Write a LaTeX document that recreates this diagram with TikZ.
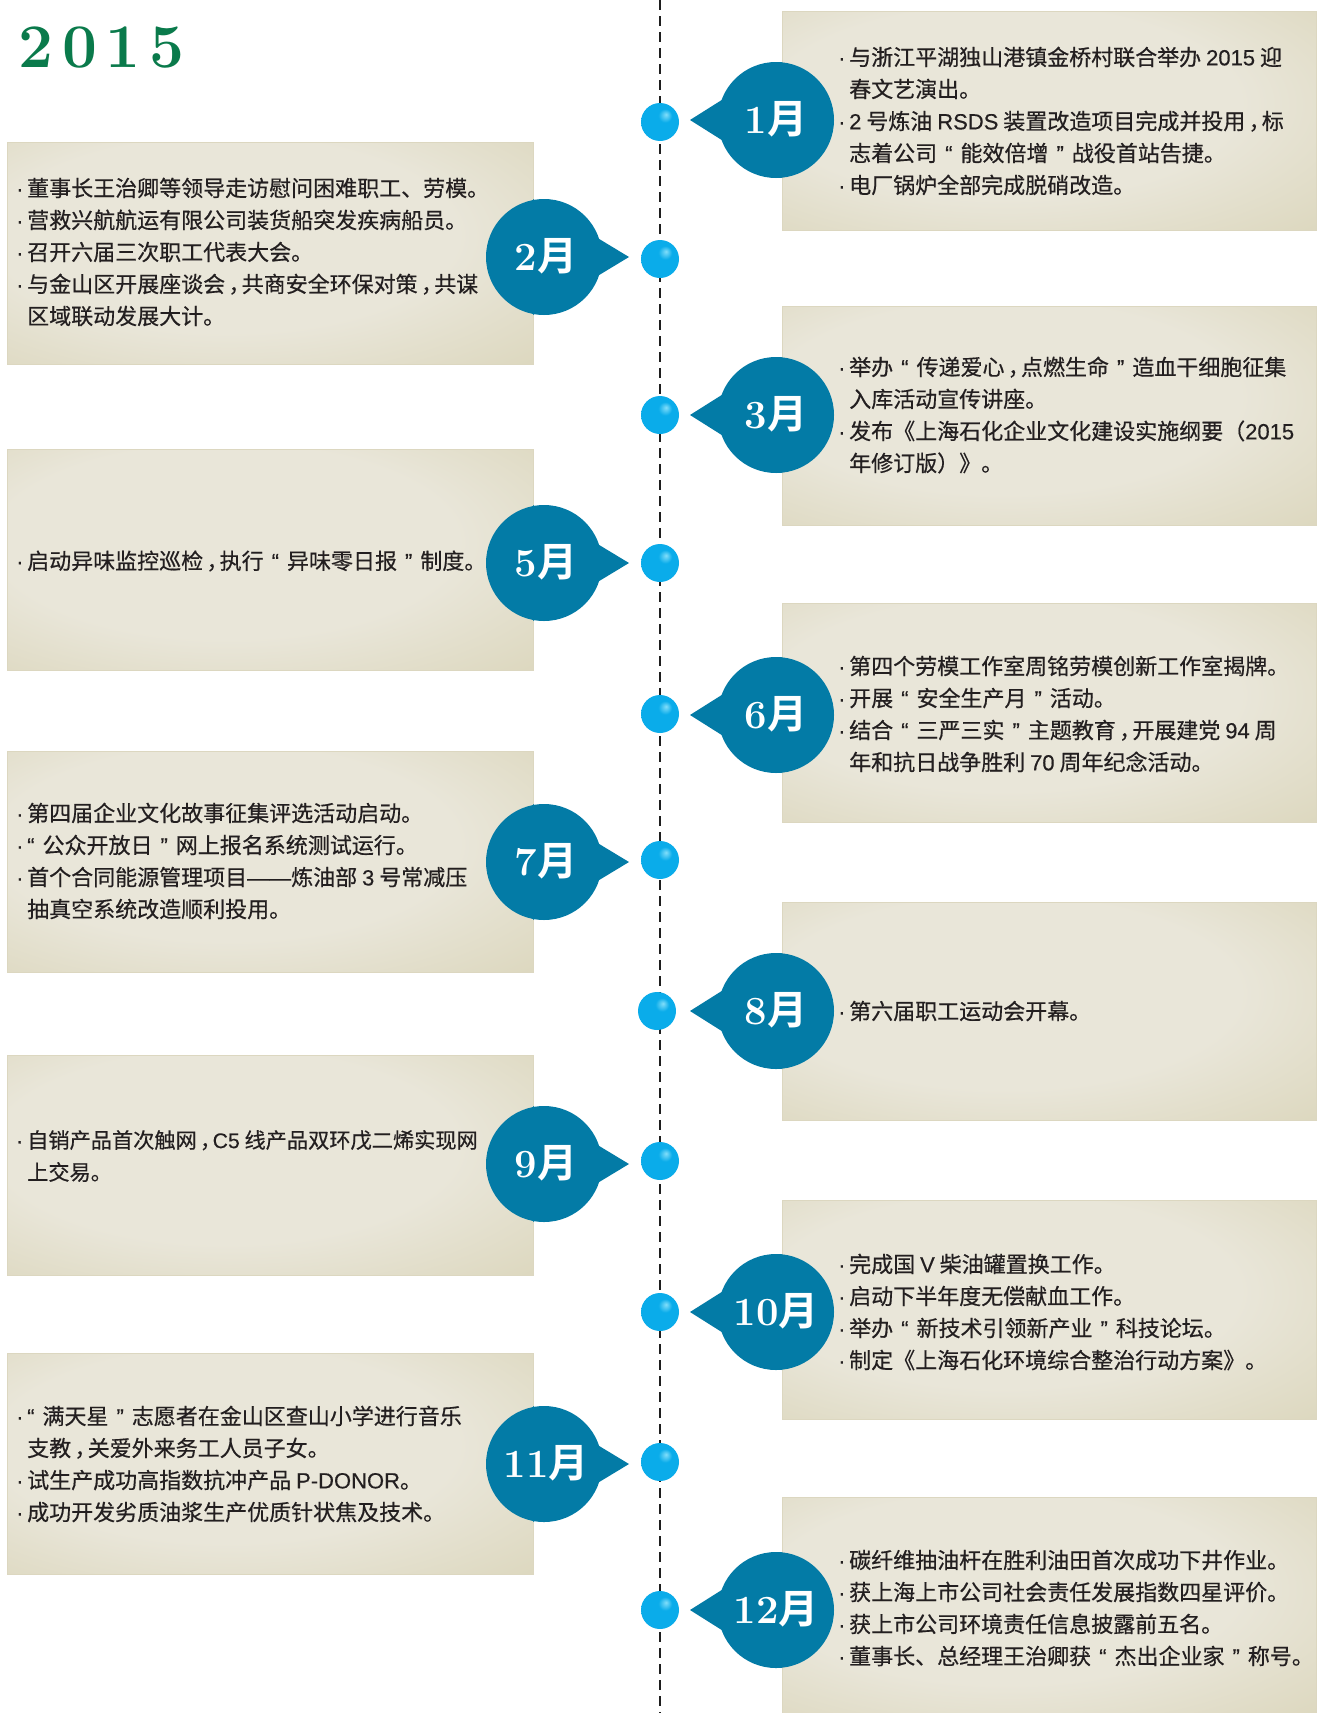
\documentclass[tikz,border=0pt]{standalone}
\usepackage{fontspec}
\newfontfamily\cjk{Noto Sans CJK SC}[BoldFont={Noto Sans CJK SC Bold}]
\newfontfamily\cjkbody{Noto Sans CJK SC}[FakeBold=0.5]
\newfontfamily\latin{Liberation Sans}[FakeBold=0.3]
\definecolor{boxin}{RGB}{233,230,217}
\definecolor{boxedge}{RGB}{213,207,175}
\definecolor{boxcorner}{RGB}{203,196,158}
\definecolor{boxline}{RGB}{220,215,192}
\definecolor{mkblue}{RGB}{3,123,166}
\definecolor{dotbase}{RGB}{10,172,234}
\definecolor{dotlight}{RGB}{130,222,250}
\definecolor{txt}{RGB}{35,31,32}
\definecolor{titlegreen}{RGB}{10,122,75}
\definecolor{dashcol}{RGB}{30,30,30}
\pgfdeclareradialshading{boxshade}{\pgfpoint{-6bp}{6bp}}{color(0bp)=(boxin); color(22bp)=(boxin); color(50bp)=(boxedge); color(75bp)=(boxcorner)}
\pgfdeclareradialshading{dotshade}{\pgfpoint{8bp}{10bp}}{color(0bp)=(dotlight); color(9bp)=(dotbase); color(42bp)=(dotbase); color(55bp)=(dotbase!88!black)}
\newcommand{\bl}{\makebox[12pt][l]{\hspace{1pt}{\latin ·}}}
\newcommand{\ind}{\hspace*{12pt}}
\newcommand{\la}[1]{{\latin #1}}
\newcommand{\oq}{\hspace{8pt}{\latin “}\hspace{8pt}}
\newcommand{\oqs}{{\latin “}\hspace{8pt}}
\newcommand{\cq}{\hspace{8pt}{\latin ”}\hspace{8pt}}
\newcommand{\cm}{\hspace{0.15em}，\hspace{-0.4em}}
\newcommand{\mon}[1]{#1{\cjk\bfseries 月}}
\tikzset{
  tbox/.style={rectangle, shading=boxshade, draw=boxline, line width=1.2pt, inner sep=0pt, anchor=north west},
  mk/.style={fill=mkblue},
  mlabel/.style={text=white, inner sep=0pt, anchor=base, font=\fontsize{40pt}{40pt}\selectfont\bfseries},
  ball/.style={circle, minimum size=38pt, inner sep=0pt, shading=dotshade},
  body/.style={text=txt, inner sep=0pt, anchor=west, align=left, font=\cjkbody\fontsize{22pt}{32pt}\selectfont},
  dashline/.style={draw=dashcol, line width=2.5pt, dash pattern=on 10pt off 6pt}
}
\newcommand{\mkR}[3]{%
  \fill[mk] (776,#2) circle (58pt);
  \fill[mk] (782,#2-58) -- (690,#2) -- (782,#2+58) -- cycle;
  \node[mlabel] (#1) at (776,#2+13) {#3};
}
\newcommand{\mkL}[3]{%
  \fill[mk] (544,#2) circle (58pt);
  \fill[mk] (533,#2-58) -- (629,#2) -- (533,#2+58) -- cycle;
  \node[mlabel] (#1) at (546,#2+13) {#3};
}
\begin{document}
\begin{tikzpicture}[x=1pt,y=-1pt]
\useasboundingbox (0,0) rectangle (1318,1713);
\fill[white] (0,0) rectangle (1318,1713);
% title
\node[text=titlegreen, inner sep=0pt, anchor=base west, font=\fontsize{62pt}{62pt}\selectfont\bfseries] (title) at (18,67) {2\hspace{9pt}0\hspace{9pt}1\hspace{9pt}5};
% timeline
\coordinate (ltop) at (660,0);
\coordinate (lbot) at (660,1713);
\draw[dashline] (ltop) -- (lbot);
% boxes
\node[tbox, minimum width=534pt, minimum height=219pt] (b1) at (782,11) {};
\node[tbox, minimum width=526pt, minimum height=222pt] (b2) at (7,142) {};
\node[tbox, minimum width=534pt, minimum height=219pt] (b3) at (782,306) {};
\node[tbox, minimum width=526pt, minimum height=221pt] (b5) at (7,449) {};
\node[tbox, minimum width=534pt, minimum height=219pt] (b6) at (782,603) {};
\node[tbox, minimum width=526pt, minimum height=221pt] (b7) at (7,751) {};
\node[tbox, minimum width=534pt, minimum height=218pt] (b8) at (782,902) {};
\node[tbox, minimum width=526pt, minimum height=220pt] (b9) at (7,1055) {};
\node[tbox, minimum width=534pt, minimum height=219pt] (b10) at (782,1200) {};
\node[tbox, minimum width=526pt, minimum height=221pt] (b11) at (7,1353) {};
\node[tbox, minimum width=534pt, minimum height=218pt] (b12) at (782,1497) {};
% markers
\mkR{m1}{120}{\mon{1}}
\mkL{m2}{257}{\mon{2}}
\mkR{m3}{415}{\mon{3}}
\mkL{m5}{563}{\mon{5}}
\mkR{m6}{715}{\mon{6}}
\mkL{m7}{862}{\mon{7}}
\mkR{m8}{1011}{\mon{8}}
\mkL{m9}{1164}{\mon{9}}
\mkR{m10}{1312}{\mon{10}}
\mkL{m11}{1464}{\mon{11}}
\mkR{m12}{1610}{\mon{12}}
% dots
\node[ball] (d1) at (660,122) {};
\node[ball] (d2) at (660,259) {};
\node[ball] (d3) at (660,415) {};
\node[ball] (d5) at (660,563) {};
\node[ball] (d6) at (660,714) {};
\node[ball] (d7) at (660,860) {};
\node[ball] (d8) at (657,1011) {};
\node[ball] (d9) at (660,1161) {};
\node[ball] (d10) at (660,1312) {};
\node[ball] (d11) at (660,1462) {};
\node[ball] (d12) at (660,1610) {};
% texts
\node[body] (t1) at (837,121) {\bl 与浙江平湖独山港镇金桥村联合举办 \la{2015} 迎\\
\ind 春文艺演出。\\
\bl \la{2} 号炼油 \la{RSDS} 装置改造项目完成并投用\cm 标\\
\ind 志着公司\oq 能效倍增\cq 战役首站告捷。\\
\bl 电厂锅炉全部完成脱硝改造。};
\node[body] (t2) at (15,252) {\bl 董事长王治卿等领导走访慰问困难职工、劳模。\\
\bl 营救兴航航运有限公司装货船突发疾病船员。\\
\bl 召开六届三次职工代表大会。\\
\bl 与金山区开展座谈会\cm 共商安全环保对策\cm 共谋\\
\ind 区域联动发展大计。};
\node[body] (t3) at (837,415) {\bl 举办\oq 传递爱心\cm 点燃生命\cq 造血干细胞征集\\
\ind 入库活动宣传讲座。\\
\bl 发布《上海石化企业文化建设实施纲要（\la{2015}\\
\ind 年修订版）》。};
\node[body] (t5) at (15,561) {\bl 启动异味监控巡检\cm 执行\oq 异味零日报\cq 制度。};
\node[body] (t6) at (837,714) {\bl 第四个劳模工作室周铭劳模创新工作室揭牌。\\
\bl 开展\oq 安全生产月\cq 活动。\\
\bl 结合\oq 三严三实\cq 主题教育\cm 开展建党 \la{94} 周\\
\ind 年和抗日战争胜利 \la{70} 周年纪念活动。};
\node[body] (t7) at (15,861) {\bl 第四届企业文化故事征集评选活动启动。\\
\bl \oqs 公众开放日\cq 网上报名系统测试运行。\\
\bl 首个合同能源管理项目\la{——}炼油部 \la{3} 号常减压\\
\ind 抽真空系统改造顺利投用。};
\node[body] (t8) at (837,1011) {\bl 第六届职工运动会开幕。};
\node[body, font=\cjkbody\fontsize{21.2pt}{32pt}\selectfont] (t9) at (15,1156) {\bl 自销产品首次触网\cm \la{C5} 线产品双环戊二烯实现网\\
\ind 上交易。};
\node[body] (t10) at (837,1312) {\bl 完成国 \la{V} 柴油罐置换工作。\\
\bl 启动下半年度无偿献血工作。\\
\bl 举办\oq 新技术引领新产业\cq 科技论坛。\\
\bl 制定《上海石化环境综合整治行动方案》。};
\node[body] (t11) at (15,1464) {\bl \oqs 满天星\cq 志愿者在金山区查山小学进行音乐\\
\ind 支教\cm 关爱外来务工人员子女。\\
\bl 试生产成功高指数抗冲产品 \la{P-DONOR}。\\
\bl 成功开发劣质油浆生产优质针状焦及技术。};
\node[body] (t12) at (837,1608) {\bl 碳纤维抽油杆在胜利油田首次成功下井作业。\\
\bl 获上海上市公司社会责任发展指数四星评价。\\
\bl 获上市公司环境责任信息披露前五名。\\
\bl 董事长、总经理王治卿获\oq 杰出企业家\cq 称号。};
\end{tikzpicture}
\end{document}
